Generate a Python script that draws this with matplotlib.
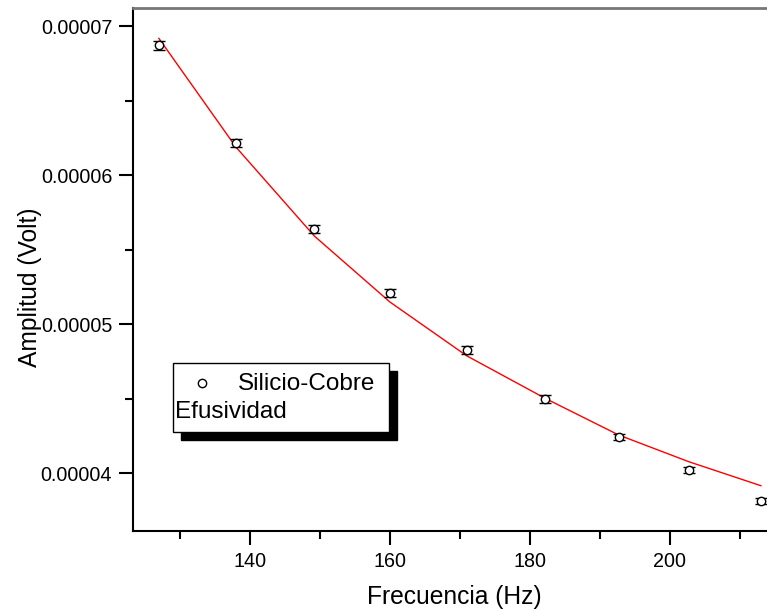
import numpy as np
import matplotlib
matplotlib.use('Agg')
import matplotlib.pyplot as plt
from matplotlib.patches import Rectangle
from matplotlib.lines import Line2D

plt.rcParams['font.family'] = ['Liberation Sans', 'DejaVu Sans']

# datos
frecuencia = [127.0, 138.0, 149.2, 160.0, 171.0, 182.2, 192.7, 202.7, 213.0]
amplitud = [6.874e-5, 6.217e-5, 5.640e-5, 5.210e-5, 4.828e-5, 4.499e-5, 4.244e-5, 4.022e-5, 3.814e-5]
error_amp = [3.0e-7, 2.8e-7, 3.0e-7, 2.8e-7, 2.4e-7, 2.4e-7, 2.2e-7, 2.2e-7, 2.0e-7]
ajuste = [6.919e-5, 6.190e-5, 5.593e-5, 5.150e-5, 4.788e-5, 4.503e-5, 4.257e-5, 4.078e-5, 3.917e-5]

W, H = 767, 611
fig = plt.figure(figsize=(W/100, H/100), dpi=100)

# ejes: el borde derecho queda fuera de la imagen
left, top, bottom = 133, 8, 531
xmin, xmax = 123.3, 215.0
px_per_hz = 7.0
right = left + (xmax - xmin)*px_per_hz
ax = fig.add_axes([left/W, 1 - bottom/H, (right - left)/W, (bottom - top)/H])

ax.plot(frecuencia, ajuste, color='red', lw=1.0, zorder=2)
ax.errorbar(frecuencia, amplitud, yerr=error_amp, fmt='o', mfc='white', mec='black',
            ms=6, mew=1.0, ecolor='black', elinewidth=1.0, capsize=4, capthick=1.2, zorder=3)

ax.set_xlim(xmin, xmax)
ax.set_ylim(3.613e-5, 7.123e-5)
ax.set_xticks([140, 160, 180, 200])
ax.set_xticks([130, 150, 170, 190, 210], minor=True)
ax.set_yticks([4e-5, 5e-5, 6e-5, 7e-5])
ax.set_yticklabels(['0.00004', '0.00005', '0.00006', '0.00007'])
ax.set_yticks([4.5e-5, 5.5e-5, 6.5e-5], minor=True)

ax.tick_params(which='major', direction='out', length=10, width=1.5, labelsize=14.2, pad=5)
ax.tick_params(which='minor', direction='out', length=5.5, width=1.5)
for s in ['left', 'bottom']:
    ax.spines[s].set_linewidth(1.5)
ax.spines['top'].set_color('#777777')
ax.spines['top'].set_linewidth(2.0)
ax.spines['right'].set_visible(False)

ax.set_xlabel('Frecuencia (Hz)', fontsize=17.7, labelpad=10)
ax.set_ylabel('Amplitud (Volt)', fontsize=17.7)
ax.yaxis.set_label_coords((42 - left)/(right - left), (bottom - 287)/(bottom - top))

# leyenda con sombra negra
bx, by, bw, bh = 173.3, 362.7, 216, 69
sh = 8
fig.patches.append(Rectangle(((bx + sh)/W, 1 - (by + bh + sh)/H), bw/W, bh/H,
                             transform=fig.transFigure, facecolor='black', edgecolor='black', zorder=5))
fig.patches.append(Rectangle((bx/W, 1 - (by + bh)/H), bw/W, bh/H,
                             transform=fig.transFigure, facecolor='white', edgecolor='black', lw=1.0, zorder=6))
fig.lines.append(Line2D([201.7/W], [1 - 383.3/H], marker='o', ms=6, mfc='white', mec='black',
                        mew=1.0, transform=fig.transFigure, zorder=7))
fig.text(238/W, 1 - 383.5/H, 'Silicio-Cobre', fontsize=17.5, va='center', ha='left', zorder=7)
fig.text(175/W, 1 - 412/H, 'Efusividad', fontsize=17.5, va='center', ha='left', zorder=7)

fig.savefig('out.png', dpi=100)
